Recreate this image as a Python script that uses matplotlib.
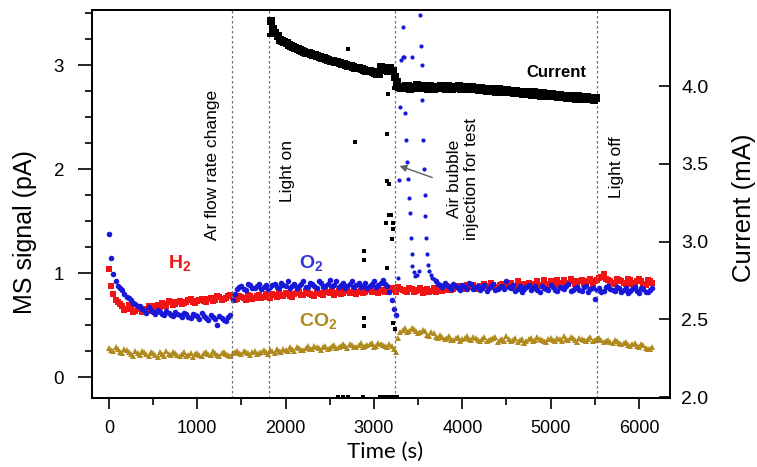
import numpy as np
import matplotlib
matplotlib.use("Agg")
import matplotlib.pyplot as plt
from matplotlib.ticker import MultipleLocator, FormatStrFormatter

plt.rcParams['font.family'] = ['Liberation Sans', 'DejaVu Sans']
plt.rcParams['mathtext.fontset'] = 'custom'
plt.rcParams['mathtext.rm'] = 'Liberation Sans'
plt.rcParams['mathtext.bf'] = 'Liberation Sans:bold'

# MS signals (pA): readings at t = 0, 50, 100 ... s
h2 = [1.04, 0.80, 0.72, 0.68, 0.66, 0.67, 0.64, 0.66, 0.65, 0.68,
      0.66, 0.69, 0.71, 0.68, 0.72, 0.70, 0.73, 0.71, 0.74, 0.72,
      0.73, 0.75, 0.72, 0.76, 0.74, 0.77, 0.75, 0.78, 0.77, 0.75,
      0.77, 0.74, 0.78, 0.76, 0.79, 0.77, 0.78, 0.80, 0.77, 0.79,
      0.81, 0.78, 0.80, 0.82, 0.79, 0.81, 0.79, 0.82, 0.80, 0.83,
      0.81, 0.79, 0.83, 0.81, 0.84, 0.82, 0.80, 0.83, 0.82, 0.85,
      0.83, 0.81, 0.84, 0.83, 0.86, 0.82, 0.85, 0.83, 0.86, 0.82,
      0.84, 0.81, 0.85, 0.83, 0.82, 0.85, 0.84, 0.87, 0.85, 0.88,
      0.86, 0.89, 0.87, 0.85, 0.88, 0.90, 0.87, 0.89, 0.86, 0.90,
      0.88, 0.91, 0.88, 0.90, 0.87, 0.91, 0.89, 0.92, 0.88, 0.90,
      0.92, 0.89, 0.91, 0.93, 0.90, 0.92, 0.89, 0.93, 0.91, 0.94,
      0.92, 0.95, 0.99, 0.93, 0.91, 0.94, 0.92, 0.90, 0.93, 0.91,
      0.94, 0.90, 0.93, 0.91]

# readings at t = 25, 75, 125 ... s
h2_b = [0.88, 0.74, 0.70, 0.65, 0.69, 0.63, 0.67, 0.63, 0.66, 0.64,
        0.68, 0.67, 0.70, 0.73, 0.69, 0.72, 0.70, 0.72, 0.75, 0.71,
        0.74, 0.73, 0.75, 0.73, 0.78, 0.74, 0.76, 0.79, 0.74, 0.78,
        0.76, 0.79, 0.75, 0.78, 0.76, 0.80, 0.76, 0.79, 0.81, 0.78,
        0.80, 0.77, 0.81, 0.79, 0.83, 0.80, 0.78, 0.81, 0.79, 0.82,
        0.84, 0.81, 0.80, 0.83, 0.81, 0.84, 0.82, 0.81, 0.84, 0.82,
        0.85, 0.83, 0.82, 0.85, 0.84, 0.87, 0.84, 0.82, 0.85, 0.83,
        0.86, 0.84, 0.82, 0.86, 0.84, 0.83, 0.86, 0.84, 0.87, 0.88,
        0.85, 0.87, 0.89, 0.87, 0.86, 0.88, 0.91, 0.87, 0.89, 0.87,
        0.89, 0.87, 0.92, 0.89, 0.90, 0.88, 0.90, 0.89, 0.93, 0.89,
        0.91, 0.93, 0.89, 0.91, 0.94, 0.90, 0.92, 0.90, 0.92, 0.90,
        0.93, 0.96, 0.94, 0.92, 0.90, 0.93, 0.91, 0.94, 0.90, 0.92,
        0.92, 0.89, 0.92]

o2 = [1.38, 0.99, 0.88, 0.84, 0.77, 0.74, 0.70, 0.68, 0.65, 0.67,
      0.63, 0.65, 0.61, 0.64, 0.60, 0.63, 0.60, 0.62, 0.58, 0.61,
      0.59, 0.62, 0.57, 0.60, 0.56, 0.59, 0.55, 0.58, 0.74, 0.85,
      0.88, 0.84, 0.89, 0.86, 0.90, 0.87, 0.85, 0.89, 0.87, 0.91,
      0.88, 0.86, 0.90, 0.88, 0.92, 0.87, 0.90, 0.86, 0.91, 0.88,
      0.93, 0.89, 0.87, 0.91, 0.88, 0.92, 0.89, 0.87, 0.91, 0.88,
      0.92, 0.89, 0.93, 0.88, 0.74, 0.60, np.nan, np.nan, np.nan, np.nan,
      np.nan, np.nan, np.nan, np.nan, 0.92, 0.89, 0.91, 0.87, 0.90, 0.86,
      0.89, 0.85, 0.90, 0.87, 0.84, 0.89, 0.86, 0.90, 0.85, 0.88,
      0.92, 0.86, 0.83, 0.88, 0.85, 0.89, 0.86, 0.84, 0.88, 0.85,
      0.89, 0.84, 0.87, 0.85, 0.90, 0.84, 0.87, 0.83, 0.88, 0.85,
      0.75, 0.86, 0.83, 0.88, 0.84, 0.87, 0.82, 0.86, 0.83, 0.87,
      0.81, 0.85, 0.82, 0.86]

o2_b = [1.15, 0.92, 0.86, 0.80, 0.76, 0.71, 0.68, 0.66, 0.62, 0.65,
        0.61, 0.63, 0.60, 0.62, 0.59, 0.61, 0.58, 0.61, 0.57, 0.60,
        0.56, 0.59, 0.55, 0.58, 0.50, 0.57, 0.54, 0.60, 0.80, 0.87,
        0.85, 0.90, 0.86, 0.88, 0.85, 0.89, 0.87, 0.90, 0.86, 0.89,
        0.92, 0.88, 0.86, 0.90, 0.87, 0.91, 0.88, 0.92, 0.87, 0.90,
        0.88, 0.92, 0.89, 0.86, 0.90, 0.87, 0.91, 0.88, 0.86, 0.90,
        0.87, 0.91, 0.90, 0.82, 0.66, np.nan, np.nan, np.nan, np.nan, np.nan,
        np.nan, np.nan, np.nan, np.nan, 0.90, 0.87, 0.89, 0.85, 0.88, 0.84,
        0.87, 0.91, 0.85, 0.88, 0.86, 0.83, 0.88, 0.84, 0.87, 0.85,
        0.87, 0.89, 0.85, 0.82, 0.87, 0.84, 0.88, 0.82, 0.86, 0.84,
        0.87, 0.83, 0.86, 0.88, 0.83, 0.86, 0.84, 0.87, 0.82, 0.86,
        0.84, 0.82, 0.87, 0.85, 0.83, 0.86, 0.84, 0.81, 0.85, 0.83,
        0.86, 0.82, 0.84]

# O2 burst after the air bubble injection
o2_peak_t = [3270, 3280, 3290, 3310, 3330, 3340, 3350, 3360, 3375, 3385,
             3395, 3405, 3415, 3425, 3435, 3450, 3470, 3490, 3510, 3520,
             3530, 3540, 3548, 3556, 3564, 3572, 3580, 3590, 3600, 3612,
             3625, 3640, 3660, 3680, 3430, 3332]
o2_peak_v = [0.95, 1.90, 2.60, 3.05, 3.37, 3.08, 2.54, 2.28, 2.07, 1.91,
             1.72, 1.58, 1.34, 1.18, 1.07, 1.01, 0.97, 0.98, 1.02, 3.48,
             3.18, 3.00, 2.66, 2.28, 2.00, 1.75, 1.55, 1.34, 1.18, 1.08,
             1.02, 0.98, 0.95, 0.94, 3.08, 3.08]

co2 = [0.28, 0.25, 0.27, 0.23, 0.26, 0.22, 0.25, 0.21, 0.24, 0.20,
       0.23, 0.19, 0.22, 0.25, 0.21, 0.23, 0.20, 0.24, 0.21, 0.19,
       0.23, 0.20, 0.24, 0.21, 0.23, 0.20, 0.24, 0.21, 0.23, 0.25,
       0.22, 0.24, 0.21, 0.25, 0.23, 0.26, 0.22, 0.25, 0.27, 0.24,
       0.26, 0.29, 0.25, 0.28, 0.26, 0.30, 0.27, 0.29, 0.26, 0.30,
       0.28, 0.31, 0.29, 0.32, 0.28, 0.31, 0.29, 0.33, 0.30, 0.32,
       0.29, 0.33, 0.31, 0.29, 0.30, 0.24, 0.43, 0.47, 0.44, 0.46,
       0.42, 0.45, 0.41, 0.43, 0.39, 0.41, 0.37, 0.40, 0.36, 0.39,
       0.37, 0.40, 0.36, 0.38, 0.35, 0.39, 0.36, 0.38, 0.34, 0.37,
       0.40, 0.35, 0.38, 0.36, 0.33, 0.37, 0.35, 0.39, 0.36, 0.34,
       0.38, 0.35, 0.37, 0.40, 0.36, 0.38, 0.34, 0.37, 0.35, 0.39,
       0.36, 0.38, 0.34, 0.36, 0.33, 0.35, 0.32, 0.34, 0.30, 0.33,
       0.29, 0.31, 0.27, 0.29]

co2_b = [0.26, 0.29, 0.24, 0.27, 0.24, 0.20, 0.23, 0.25, 0.22, 0.24,
         0.21, 0.24, 0.20, 0.22, 0.24, 0.21, 0.22, 0.20, 0.23, 0.22,
         0.21, 0.23, 0.22, 0.25, 0.21, 0.23, 0.22, 0.20, 0.24, 0.23,
         0.25, 0.23, 0.24, 0.22, 0.24, 0.24, 0.26, 0.23, 0.25, 0.27,
         0.25, 0.27, 0.29, 0.26, 0.28, 0.27, 0.30, 0.28, 0.29, 0.27,
         0.30, 0.28, 0.30, 0.30, 0.32, 0.29, 0.31, 0.29, 0.31, 0.33,
         0.30, 0.32, 0.30, 0.32, 0.27, 0.38, 0.45, 0.43, 0.47, 0.44,
         0.43, 0.44, 0.40, 0.42, 0.38, 0.39, 0.38, 0.36, 0.38, 0.35,
         0.38, 0.37, 0.39, 0.36, 0.37, 0.35, 0.37, 0.39, 0.36, 0.35,
         0.37, 0.36, 0.34, 0.37, 0.35, 0.38, 0.36, 0.37, 0.35, 0.37,
         0.36, 0.38, 0.35, 0.37, 0.39, 0.36, 0.38, 0.36, 0.37, 0.35,
         0.37, 0.36, 0.35, 0.34, 0.36, 0.33, 0.33, 0.31, 0.32, 0.30,
         0.32, 0.28, 0.27]

# photocurrent (mA): readings at t = 1810, 1860 ... s
cur = [4.60, 4.37, 4.32, 4.29, 4.28, 4.26, 4.245, 4.235, 4.22, 4.215,
       4.20, 4.195, 4.18, 4.175, 4.165, 4.155, 4.15, 4.14, 4.13, 4.125,
       4.115, 4.11, 4.10, 4.095, 4.085, 4.08, 4.115, 4.095, 4.10, 4.03,
       3.99, 4.00, 3.985, 3.995, 3.99, 4.00, 3.985, 3.995, 3.99, 4.00,
       3.985, 3.995, 3.99, 4.00, 3.99, 3.985, 3.995, 3.98, 3.99, 3.975,
       3.985, 3.97, 3.98, 3.965, 3.975, 3.96, 3.97, 3.955, 3.965, 3.95,
       3.96, 3.945, 3.955, 3.94, 3.95, 3.935, 3.945, 3.93, 3.94, 3.925,
       3.935, 3.92, 3.93, 3.915, 3.925]

# readings at t = 1835, 1885 ... s
cur_b = [4.42, 4.34, 4.30, 4.285, 4.265, 4.255, 4.24, 4.225, 4.215, 4.205,
         4.20, 4.185, 4.18, 4.17, 4.16, 4.155, 4.145, 4.135, 4.13, 4.12,
         4.115, 4.105, 4.10, 4.09, 4.08, 4.125, 4.105, 4.12, 4.06, 3.995,
         3.99, 4.00, 3.99, 4.005, 3.99, 3.995, 4.00, 3.985, 3.995, 3.99,
         4.00, 3.985, 3.995, 3.985, 3.995, 3.98, 3.99, 3.975, 3.985, 3.97,
         3.98, 3.965, 3.975, 3.96, 3.97, 3.955, 3.965, 3.95, 3.96, 3.945,
         3.955, 3.94, 3.95, 3.935, 3.945, 3.93, 3.94, 3.925, 3.935, 3.92,
         3.93, 3.915, 3.925, 3.91]

# stray current readings
cur_out_t = [1812, 1822, 2705, 2785, 2887, 2887, 2887, 2887, 3135, 3145,
             3145, 3147, 3160, 3165, 3165, 3190, 3200, 3215, 3215, 3215,
             3240, 3230, 2592, 2650, 2705, 2875, 3070, 3100, 3147, 3180,
             3215, 3260]
cur_out_v = [4.33, 4.41, 4.24, 3.64, 2.94, 2.88, 2.51, 2.46, 3.12, 3.69,
             3.39, 2.83, 3.95, 3.37, 3.17, 3.17, 3.02, 3.08, 3.12, 2.48,
             2.44, 3.99, 2.0, 2.0, 2.0, 2.0, 2.0, 2.0, 2.0, 2.0,
             2.0, 2.0]

events_t = [1390, 1810, 3240, 5525]

t_a = np.arange(len(h2)) * 50
t_b = 25 + np.arange(len(h2_b)) * 50
tc_a = 1810 + np.arange(len(cur)) * 50
tc_b = 1835 + np.arange(len(cur_b)) * 50

red = '#f01414'
blue = '#1818d8'
gold = '#b08a1c'

fig = plt.figure(figsize=(7.57, 4.67), dpi=100)
ax = fig.add_axes([0.1215, 0.1478, 0.7636, 0.8308])
ax2 = ax.twinx()

for tt, vv in ((t_a, co2), (t_b, co2_b)):
    ax.plot(tt, vv, '^', color=gold, ms=4.4, mew=0, ls='none')
for tt, vv in ((t_a, h2), (t_b, h2_b)):
    ax.plot(tt, vv, 's', color=red, ms=3.8, mew=0, ls='none')
for tt, vv in ((t_a, o2), (t_b, o2_b)):
    ax.plot(tt, vv, 'o', color=blue, ms=4.0, mew=0, ls='none')
ax.plot(o2_peak_t, o2_peak_v, 'o', color=blue, ms=3.0, mew=0, ls='none')

ax2.plot(tc_a, cur, 's', color='black', ms=5.4, mew=0, ls='none')
ax2.plot(tc_b, cur_b, 's', color='black', ms=5.4, mew=0, ls='none')
ax2.plot(cur_out_t, cur_out_v, 's', color='black', ms=3.2, mew=0, ls='none')

for tx in events_t:
    ax.axvline(tx, color='#707070', lw=0.9, ls=(0, (2, 2)))

ax.set_xlim(-192, 6351)
ax.set_ylim(-0.20, 3.53)
ax2.set_ylim(1.995, 4.49)

ax.xaxis.set_major_locator(MultipleLocator(1000))
ax.xaxis.set_minor_locator(MultipleLocator(500))
ax.yaxis.set_major_locator(MultipleLocator(1))
ax.yaxis.set_minor_locator(MultipleLocator(0.25))
ax2.yaxis.set_major_locator(MultipleLocator(0.5))
ax2.yaxis.set_major_formatter(FormatStrFormatter('%.1f'))

ax.tick_params(axis='x', which='major', direction='out', length=8, width=1.2,
               labelsize=13, pad=8, top=False)
ax.tick_params(axis='x', which='minor', direction='out', length=5, width=1.2, top=False)
ax.tick_params(axis='y', which='major', direction='out', length=10, width=1.2,
               labelsize=13.5, pad=10, right=False)
ax.tick_params(axis='y', which='minor', direction='out', length=5, width=1.2, right=False)
ax2.tick_params(axis='y', which='major', direction='in', length=8, width=1.2,
                labelsize=14, pad=8)
ax2.tick_params(axis='y', which='minor', right=False)

for a in (ax, ax2):
    for sp in a.spines.values():
        sp.set_linewidth(1.3)

ax.set_ylabel('MS signal (pA)', fontsize=18)
ax.yaxis.set_label_coords(-0.095, 0.428)
ax2.set_ylabel('Current (mA)', fontsize=18.5)
ax2.yaxis.set_label_coords(1.108, 0.49)
ax.set_xlabel('Time (s)', fontsize=16, family=['Lato', 'DejaVu Sans'])
ax.xaxis.set_label_coords(0.507, -0.112)

# annotations
ax.text(1177, 1.32, 'Ar flow rate change', rotation=90, ha='center', va='bottom', fontsize=12.5)
ax.text(2025, 1.68, 'Light on', rotation=90, ha='center', va='bottom', fontsize=12.5)
ax.text(4007, 1.91, 'Air bubble\ninjection for test', rotation=90, ha='center', va='center',
        fontsize=12.5, multialignment='center', linespacing=1.1)
ax.text(5750, 2.02, 'Light off', rotation=90, ha='center', va='center', fontsize=12.5)
ax.annotate('', xy=(3260, 2.04), xytext=(3690, 1.91),
            arrowprops=dict(arrowstyle='-|>', color='#606060', lw=1.0, mutation_scale=10))

ax2.text(5070, 4.09, 'Current', ha='center', va='center', fontsize=12, fontweight='bold')
ax.text(805, 1.10, r'$\mathbf{H_2}$', color=red, ha='center', va='center', fontsize=14)
ax.text(2290, 1.10, r'$\mathbf{O_2}$', color='#3535e0', ha='center', va='center', fontsize=14)
ax.text(2370, 0.54, r'$\mathbf{CO_2}$', color=gold, ha='center', va='center', fontsize=14)

fig.savefig('out.png', dpi=100)
